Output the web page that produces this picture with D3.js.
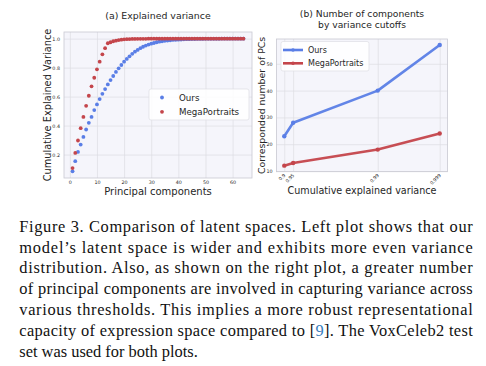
<!DOCTYPE html>
<html>
<head>
<meta charset="utf-8">
<script src="https://cdn.jsdelivr.net/npm/d3@7"></script>
<style>
  body { margin: 0; background: #fff; }
  svg { display: block; }
  text { font-family: "DejaVu Sans", sans-serif; fill: #262626; }
  text.caption { font-family: "Liberation Serif", serif; fill: #111; }
</style>
</head>
<body>
<svg id="fig" width="486" height="366"></svg>
<script>
// (a) cumulative explained variance per principal component
const components = d3.range(1, 65);
const oursVariance = [
  0.084, 0.154, 0.218, 0.269, 0.322, 0.373, 0.419, 0.460, 0.507, 0.546,
  0.583, 0.619, 0.652, 0.684, 0.714, 0.742, 0.770, 0.795, 0.818, 0.841,
  0.860, 0.878, 0.895, 0.910, 0.922, 0.934, 0.944, 0.952, 0.959, 0.965,
  0.970, 0.975, 0.979, 0.982, 0.985, 0.987, 0.989, 0.991, 0.992, 0.993,
  0.994, 0.995, 0.996, 0.996, 0.997, 0.997, 0.998, 0.998, 0.998, 0.999,
  0.999, 0.999, 0.999, 0.999, 0.999, 1.000, 1.000, 1.000, 1.000, 1.000,
  1.000, 1.000, 1.000, 1.000
];
const megaVariance = [
  0.107, 0.211, 0.297, 0.382, 0.460, 0.536, 0.606, 0.671, 0.730, 0.788,
  0.841, 0.892, 0.934, 0.968, 0.975, 0.982, 0.986, 0.990, 0.993, 0.995,
  0.996, 0.997, 0.998, 0.998, 0.999, 0.999, 0.999, 0.999, 1.000, 1.000,
  1.000, 1.000, 1.000, 1.000, 1.000, 1.000, 1.000, 1.000, 1.000, 1.000,
  1.000, 1.000, 1.000, 1.000, 1.000, 1.000, 1.000, 1.000, 1.000, 1.000,
  1.000, 1.000, 1.000, 1.000, 1.000, 1.000, 1.000, 1.000, 1.000, 1.000,
  1.000, 1.000, 1.000, 1.000
];
const xTicksA = [0, 10, 20, 30, 40, 50, 60];
const yTicksA = [0.2, 0.4, 0.6, 0.8, 1.0];

// (b) number of components by variance cutoffs
const cutoffs = [0.9, 0.95, 0.99, 0.999];
const oursPCs = [23, 28, 40, 57];
const megaPCs = [12, 13, 18, 24];
const yTicksB = [10, 20, 30, 40, 50];

const captionLines = [
  "Figure 3. Comparison of latent spaces. Left plot shows that our",
  "model\u2019s latent space is wider and exhibits more even variance",
  "distribution. Also, as shown on the right plot, a greater number",
  "of principal components are involved in capturing variance across",
  "various thresholds. This implies a more robust representational",
  "capacity of expression space compared to [9]. The VoxCeleb2 test",
  "set was used for both plots."
];

const blue = "#5a7ee6";
const red = "#c4454b";
const axBg = "#f5f5fb";
const gridCol = "#dcdce3";

const svg = d3.select("#fig");

// matplotlib-like 5% margins
function padded(ext) {
  const p = (ext[1] - ext[0]) * 0.05;
  return [ext[0] - p, ext[1] + p];
}

function frame(g, box) {
  g.append("rect")
    .attr("x", box.x0).attr("y", box.y0)
    .attr("width", box.x1 - box.x0).attr("height", box.y1 - box.y0)
    .attr("fill", axBg);
}

function border(g, box) {
  g.append("rect")
    .attr("x", box.x0).attr("y", box.y0)
    .attr("width", box.x1 - box.x0).attr("height", box.y1 - box.y0)
    .attr("fill", "none").attr("stroke", "#c9c9d2").attr("stroke-width", 0.8);
}

// ---------- panel (a) ----------
const boxA = { x0: 64, x1: 252, y0: 32, y1: 178 };
const gA = svg.append("g");
frame(gA, boxA);

const xA = d3.scaleLinear().domain(padded(d3.extent(components))).range([boxA.x0, boxA.x1]);
const yA = d3.scaleLinear()
  .domain(padded([d3.min(oursVariance.concat(megaVariance)), d3.max(oursVariance.concat(megaVariance))]))
  .range([boxA.y1, boxA.y0]);

gA.append("g")
  .attr("transform", `translate(0,${boxA.y1})`)
  .call(d3.axisBottom(xA).tickValues(xTicksA).tickSize(-(boxA.y1 - boxA.y0)).tickPadding(3))
  .call(g => g.select(".domain").remove())
  .call(g => g.selectAll("line").attr("stroke", gridCol).attr("stroke-width", 0.7))
  .call(g => g.selectAll("text").attr("font-size", 4.8).attr("fill", "#555"));

gA.append("g")
  .attr("transform", `translate(${boxA.x0},0)`)
  .call(d3.axisLeft(yA).tickValues(yTicksA).tickFormat(d3.format(".1f")).tickSize(-(boxA.x1 - boxA.x0)).tickPadding(4))
  .call(g => g.select(".domain").remove())
  .call(g => g.selectAll("line").attr("stroke", gridCol).attr("stroke-width", 0.7))
  .call(g => g.selectAll("text").attr("font-size", 4.8).attr("fill", "#555"));

border(gA, boxA);

gA.append("g").selectAll("circle")
  .data(components)
  .enter().append("circle")
  .attr("cx", d => xA(d))
  .attr("cy", (d, i) => yA(oursVariance[i]))
  .attr("r", 1.9)
  .attr("fill", blue);

gA.append("g").selectAll("circle")
  .data(components)
  .enter().append("circle")
  .attr("cx", d => xA(d))
  .attr("cy", (d, i) => yA(megaVariance[i]))
  .attr("r", 1.9)
  .attr("fill", red);

// legend (a)
const legA = gA.append("g");
legA.append("rect")
  .attr("x", 149).attr("y", 89).attr("width", 100).attr("height", 31)
  .attr("rx", 2).attr("fill", "#fff").attr("fill-opacity", 0.85)
  .attr("stroke", "#dedee4").attr("stroke-width", 0.7);
[["Ours", blue], ["MegaPortraits", red]].forEach((d, i) => {
  const cy = 97.5 + i * 14.3;
  legA.append("circle").attr("cx", 162).attr("cy", cy).attr("r", 1.9).attr("fill", d[1]);
  legA.append("text").attr("x", 179).attr("y", cy + 3.1).attr("font-size", 8.7).text(d[0]);
});

gA.append("text")
  .attr("x", (boxA.x0 + boxA.x1) / 2).attr("y", 18.5)
  .attr("text-anchor", "middle").attr("font-size", 9.4)
  .text("(a) Explained variance");

gA.append("text")
  .attr("x", (boxA.x0 + boxA.x1) / 2).attr("y", 195)
  .attr("text-anchor", "middle").attr("font-size", 10)
  .text("Principal components");

gA.append("text")
  .attr("transform", `translate(51,${(boxA.y0 + boxA.y1) / 2}) rotate(-90)`)
  .attr("text-anchor", "middle").attr("font-size", 9.8)
  .text("Cumulative Explained Variance");

// ---------- panel (b) ----------
const boxB = { x0: 276.5, x1: 447.5, y0: 39, y1: 171.7 };
const gB = svg.append("g");
frame(gB, boxB);

const inset = (boxB.x1 - boxB.x0) * 0.05 / 1.1;
const xB = d3.scalePow().exponent(56)
  .domain(d3.extent(cutoffs))
  .range([boxB.x0 + inset, boxB.x1 - inset]);
const yB = d3.scaleLinear()
  .domain(padded([d3.min(megaPCs), d3.max(oursPCs)]))
  .range([boxB.y1, boxB.y0]);

gB.append("g")
  .attr("transform", `translate(0,${boxB.y1})`)
  .call(d3.axisBottom(xB).tickValues(cutoffs).tickFormat(d => String(d)).tickSize(-(boxB.y1 - boxB.y0)))
  .call(g => g.select(".domain").remove())
  .call(g => g.selectAll("line").attr("stroke", gridCol).attr("stroke-width", 0.7))
  .call(g => g.selectAll("text")
    .attr("font-size", 4.6).attr("fill", "#555")
    .attr("text-anchor", "end").attr("dy", null).attr("y", 0)
    .attr("transform", "translate(1,4) rotate(-45)"));

gB.append("g")
  .attr("transform", `translate(${boxB.x0},0)`)
  .call(d3.axisLeft(yB).tickValues(yTicksB).tickSize(-(boxB.x1 - boxB.x0)).tickPadding(4))
  .call(g => g.select(".domain").remove())
  .call(g => g.selectAll("line").attr("stroke", gridCol).attr("stroke-width", 0.7))
  .call(g => g.selectAll("text").attr("font-size", 4.8).attr("fill", "#555"));

border(gB, boxB);

const lineB = d3.line().x((d, i) => xB(cutoffs[i])).y(d => yB(d));
[[oursPCs, blue], [megaPCs, red]].forEach(s => {
  gB.append("path")
    .attr("d", lineB(s[0]))
    .attr("fill", "none").attr("stroke", s[1]).attr("stroke-width", 2.6)
    .attr("stroke-linejoin", "round").attr("stroke-opacity", 0.95);
  gB.append("g").selectAll("circle")
    .data(s[0]).enter().append("circle")
    .attr("cx", (d, i) => xB(cutoffs[i]))
    .attr("cy", d => yB(d))
    .attr("r", 2.2).attr("fill", s[1]);
});

// legend (b)
const legB = gB.append("g");
legB.append("rect")
  .attr("x", 281).attr("y", 41.5).attr("width", 88).attr("height", 29.5)
  .attr("rx", 2).attr("fill", "#fff").attr("fill-opacity", 0.85)
  .attr("stroke", "#dedee4").attr("stroke-width", 0.7);
[["Ours", blue], ["MegaPortraits", red]].forEach((d, i) => {
  const cy = 50 + i * 13.3;
  legB.append("line").attr("x1", 283).attr("x2", 303).attr("y1", cy).attr("y2", cy)
    .attr("stroke", d[1]).attr("stroke-width", 2.6);
  legB.append("circle").attr("cx", 293).attr("cy", cy).attr("r", 1.8).attr("fill", d[1]);
  legB.append("text").attr("x", 308).attr("y", cy + 2.9).attr("font-size", 8).text(d[0]);
});

const titleB = gB.append("text")
  .attr("text-anchor", "middle").attr("font-size", 9.2);
titleB.append("tspan").attr("x", (boxB.x0 + boxB.x1) / 2).attr("y", 16.5).text("(b) Number of components");
titleB.append("tspan").attr("x", (boxB.x0 + boxB.x1) / 2).attr("y", 27.5).text("by variance cutoffs");

gB.append("text")
  .attr("x", (boxB.x0 + boxB.x1) / 2).attr("y", 194)
  .attr("text-anchor", "middle").attr("font-size", 9.6)
  .text("Cumulative explained variance");

gB.append("text")
  .attr("transform", `translate(265,${(boxB.y0 + boxB.y1) / 2}) rotate(-90)`)
  .attr("text-anchor", "middle").attr("font-size", 9.4)
  .text("Corresponded number of PCs");

// ---------- caption ----------
const cap = svg.append("g");
captionLines.forEach((line, i) => {
  const t = cap.append("text")
    .attr("class", "caption")
    .attr("font-family", "Liberation Serif, serif")
    .attr("x", 19.3).attr("y", 231.7 + i * 20.85)
    .attr("font-size", 16.4);
  if (i < captionLines.length - 1) {
    t.attr("textLength", 453.4).attr("lengthAdjust", "spacing");
  }
  if (line.includes("[9]")) {
    const parts = line.split("[9]");
    t.append("tspan").text(parts[0] + "[");
    t.append("tspan").style("fill", "#367dbd").text("9");
    t.append("tspan").text("]" + parts[1]);
  } else {
    t.text(line);
  }
});
</script>
</body>
</html>
